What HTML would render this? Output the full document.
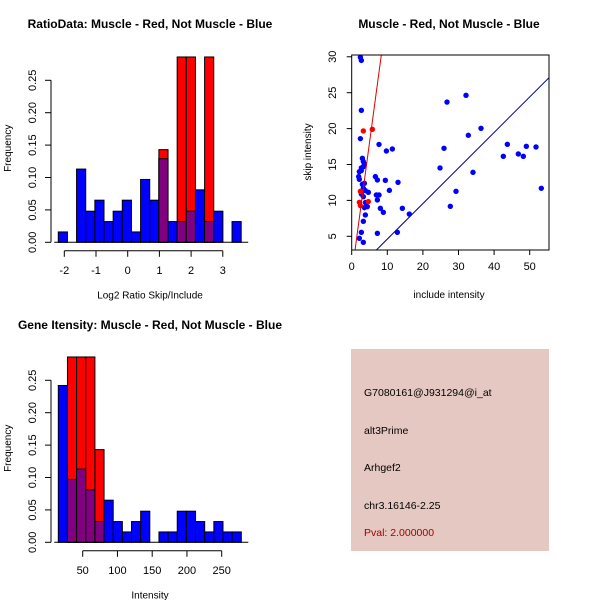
<!DOCTYPE html>
<html><head><meta charset="utf-8"><style>
body{margin:0;background:#fff;}
svg{display:block;font-family:"Liberation Sans",Arial,sans-serif;}
</style></head><body>
<svg id="s" width="600" height="600" viewBox="0 0 600 600">
<rect x="0" y="0" width="600" height="600" fill="#fff"/>
</svg>
<script>
// ---- data: ratio histogram ----
const ratioBlue = [0.016,0,0.113,0.048,0.065,0.032,0.048,0.065,0.016,0.097,0.065,0.129,0.032,0.032,0.048,0.081,0.032,0.048,0,0.032];
const ratioRed  = [0,0,0,0,0,0,0,0,0,0,0,0.143,0,0.286,0.286,0,0.286,0,0,0];
const ratioStart = -2.19;
const ratioEnd = 3.58;
const ratioXTicks = [-2,-1,0,1,2,3];
const freqTicks = [0,0.05,0.10,0.15,0.20,0.25];
const freqTickLabels = ["0.00","0.05","0.10","0.15","0.20","0.25"];
// ---- data: intensity histogram ----
const intBlue = [0.242,0.097,0.113,0.081,0.032,0.065,0.032,0.016,0.032,0.048,0,0.016,0.016,0.048,0.048,0.032,0.016,0.032,0.016,0.016];
const intRed  = [0,0.286,0.286,0.286,0.143,0,0,0,0,0,0,0,0,0,0,0,0,0,0,0];
const intStart = 14.9;
const intEnd = 278.2;
const intXTicks = [50,100,150,200,250];
// ---- data: scatter ----
const blueX = [2.44,2.71,2.71,2.44,3.0,3.27,2.71,2.15,1.96,2.15,2.71,3.27,3.56,3.0,3.56,3.27,3.84,2.71,3.27,3.84,4.68,4.4,3.56,3.84,3.27,2.71,3.27,2.15,6.65,7.21,7.67,6.93,7.21,7.67,8.05,8.89,9.45,9.74,10.58,11.42,13.01,12.82,7.21,14.23,16.18,24.81,25.93,26.77,27.7,29.3,32.11,32.76,34.07,36.32,42.59,43.72,46.8,48.21,49.05,51.77,53.26];
const blueY = [29.93,29.5,22.55,18.6,15.86,15.4,14.52,14.0,13.31,12.94,14.15,14.7,15.07,12.24,12.38,11.69,11.36,10.9,10.52,9.69,11.13,9.13,8.99,7.97,7.09,5.56,4.16,4.72,13.31,12.85,17.8,10.76,10.06,10.76,8.9,8.34,12.8,16.88,11.4,17.16,12.52,5.56,5.42,8.9,8.1,14.52,17.26,23.7,9.18,11.27,24.64,19.07,13.91,20.04,16.14,17.81,16.47,16.14,17.53,17.44,11.69];
const redX = [3.27,5.8,2.44,2.15,2.44,4.68];
const redY = [19.67,19.9,11.27,9.74,9.27,9.83];
const xTicksSc = [0,10,20,30,40,50];
const yTicksSc = [5,10,15,20,25,30];
const redLine = [3.68,-0.36];
const blueLine = [0.495,-0.34];

const NS="http://www.w3.org/2000/svg";
const svg=document.getElementById('s');
function el(tag,attrs,parent){const e=document.createElementNS(NS,tag);for(const k in attrs)e.setAttribute(k,attrs[k]);(parent||svg).appendChild(e);return e;}
function txt(x,y,s,attrs,parent){const t=el('text',Object.assign({x:x,y:y,'font-size':11,'text-anchor':'middle',fill:'#000'},attrs||{}),parent);t.textContent=s;return t;}

function hist(g,blue,red,start,end,xTicks,y0,xf,ticksY,titleText,titleX,xlab){
  const yf=v=>y0-v*648;
  const n=blue.length,w=(end-start)/n;
  for(let i=0;i<n;i++){
    const a=xf(start+i*w),b=xf(start+(i+1)*w);
    if(blue[i]>0){const r=el('rect',{x:a,y:yf(blue[i]),width:b-a,height:y0-yf(blue[i]),fill:'#0000ff',stroke:'#000','stroke-width':1},g);
      
      }
    if(red[i]>0){const r=el('rect',{x:a,y:yf(red[i]),width:b-a,height:y0-yf(red[i]),fill:'#ff0000',stroke:'#000','stroke-width':1},g);
      
      
      const m=Math.min(red[i],blue[i]);
      if(m>0){const p=el('rect',{x:a,y:yf(m),width:b-a,height:y0-yf(m),fill:'#800080',stroke:'#000','stroke-width':1},g);
        
        }}
  }
  el('line',{x1:xf(start)-4,x2:xf(end)+7,y1:y0,y2:y0,stroke:'#000'},g);
  el('line',{x1:51,x2:51,y1:yf(0),y2:yf(0.25),stroke:'#000'},g);
  freqTicks.forEach((v,i)=>{el('line',{x1:45,x2:51,y1:yf(v),y2:yf(v),stroke:'#000'},g);
    txt(32,yf(v)+4,freqTickLabels[i],{transform:`rotate(-90 32 ${yf(v)})`,'font-size':11},g);});
  const ya=y0+8.5;
  el('line',{x1:xf(xTicks[0]),x2:xf(xTicks[xTicks.length-1]),y1:ya,y2:ya,stroke:'#000'},g);
  xTicks.forEach(v=>{el('line',{x1:xf(v),x2:xf(v),y1:ya,y2:ya+6,stroke:'#000'},g);txt(xf(v),ya+23,String(v),{},g);});
  const yl=txt(11,y0-94,'Frequency',{transform:`rotate(-90 11 ${y0-94})`,'font-size':10},g);
  
  const xl=txt(150,y0+56,xlab,{'font-size':10},g);
  
  const t=txt(titleX,ticksY,titleText,{'font-weight':'bold','font-size':12},g);
  
}

const g1=el('g',{});


hist(g1,ratioBlue,ratioRed,ratioStart,ratioEnd,ratioXTicks,242.3,v=>64.3+(v+2)*31.7,28,'RatioData: Muscle - Red, Not Muscle - Blue',150,'Log2 Ratio Skip/Include');

const g3=el('g',{});


hist(g3,intBlue,intRed,intStart,intEnd,intXTicks,542.3,v=>82.7+(v-50)*0.695,329,'Gene Itensity: Muscle - Red, Not Muscle - Blue',150,'Intensity');

const g2=el('g',{});


const sx=v=>351.7+v*3.56, sy=v=>236.3-(v-5)*7.18;
const L=351.7,R=549,T=55,B=250;
const cp=el('clipPath',{id:'cp'},g2);el('rect',{x:L,y:T,width:R-L,height:B-T},cp);
const pg=el('g',{'clip-path':'url(#cp)'},g2);
function abline(c,col,name){const x0=0,x1=56;const l=el('line',{x1:sx(x0),y1:sy(c[0]*x0+c[1]),x2:sx(x1),y2:sy(c[0]*x1+c[1]),stroke:col,'stroke-width':1},pg);
  }
blueX.forEach((x,i)=>{const c=el('circle',{cx:sx(x),cy:sy(blueY[i]),r:2.7,fill:'#0000ff'},pg);
  
  });
redX.forEach((x,i)=>{const c=el('circle',{cx:sx(x),cy:sy(redY[i]),r:2.7,fill:'#ff0000'},pg);
  
  });
abline(redLine,'#dd0000','red-fit-line');
abline(blueLine,'#000099','blue-fit-line');
el('rect',{x:L,y:T,width:R-L,height:B-T,fill:'none',stroke:'#000'},g2);
xTicksSc.forEach(v=>{el('line',{x1:sx(v),x2:sx(v),y1:B,y2:B+5,stroke:'#000'},g2);txt(sx(v),B+20,String(v),{},g2);});
yTicksSc.forEach(v=>{el('line',{x1:L-5,x2:L,y1:sy(v),y2:sy(v),stroke:'#000'},g2);txt(332,sy(v)+4,String(v),{transform:`rotate(-90 332 ${sy(v)})`},g2);});
const sxl=txt(449,298,'include intensity',{'font-size':10},g2);

const syl=txt(311,152,'skip intensity',{transform:'rotate(-90 311 152)','font-size':10},g2);

const st=txt(449,28,'Muscle - Red, Not Muscle - Blue',{'font-weight':'bold','font-size':12},g2);


const g4=el('g',{});


el('rect',{x:351,y:349,width:198,height:202,fill:'#e6c8c2'},g4);
const lines=[['G7080161@J931294@i_at',396,'#000','probe-id'],['alt3Prime',434,'#000','event-type'],['Arhgef2',471,'#000','gene-name'],['chr3.16146-2.25',509,'#000','location'],['Pval: 2.000000',536,'#990000','p-value']];
lines.forEach(l=>{const t=txt(364,l[1],l[0],{'text-anchor':'start','font-size':10.5,fill:l[2]},g4);
  
  });
</script>
</body></html>
